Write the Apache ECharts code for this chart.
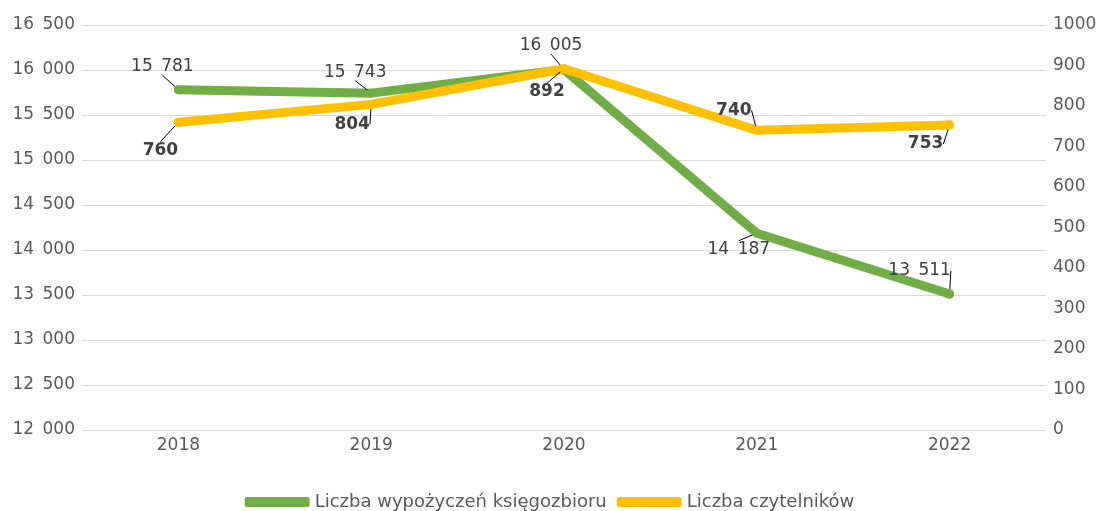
<!DOCTYPE html>
<html>
<head>
<meta charset="utf-8">
<script src="https://cdn.jsdelivr.net/npm/echarts@6/dist/echarts.min.js"></script>
<style>
  html, body { margin: 0; padding: 0; background: #fff; }
  #chart { width: 1099px; height: 511px; }
</style>
</head>
<body>
<div id="chart"></div>
<script>
var years = ['2018', '2019', '2020', '2021', '2022'];
var wypozyczenia = [15781, 15743, 16005, 14187, 13511];
var czytelnicy = [760, 804, 892, 740, 753];

// przesunięcia etykiet względem punktów
var greenOff = [[-16, -23], [-16, -21], [-13, -24], [-18, 16], [-30, -23]];
var yellowOff = [[-18, 28], [-19, 20], [-17, 23], [-23, -20], [-24, 19]];

var font = 'DejaVu Sans';
var fs = 17;

function fmt(v) {
  return String(v).replace(/\B(?=(\d{3})+(?!\d))/g, '\u2002');
}

var chart = echarts.init(document.getElementById('chart'));
var options = {
  animation: false,
  textStyle: { fontFamily: font },
  grid: { left: 82, right: 53, top: 25, bottom: 81, outerBoundsMode: 'none', containLabel: false },
  legend: {
    top: 488,
    icon: 'roundRect',
    itemWidth: 65,
    itemHeight: 10,
    itemGap: 10,
    textStyle: { color: '#595959', fontSize: 18, fontFamily: font },
    data: ['Liczba wypożyczeń księgozbioru', 'Liczba czytelników']
  },
  xAxis: {
    type: 'category',
    data: years,
    axisLine: { lineStyle: { color: '#d9d9d9', width: 1 } },
    axisTick: { show: false },
    axisLabel: { color: '#595959', fontSize: fs, fontFamily: font, margin: 7 }
  },
  yAxis: [{
    type: 'value',
    min: 12000, max: 16500, interval: 500,
    axisLabel: { color: '#595959', fontSize: fs, fontFamily: font, margin: 7, formatter: fmt },
    splitLine: { lineStyle: { color: '#d9d9d9', width: 1 } }
  }, {
    type: 'value',
    min: 0, max: 1000, interval: 100,
    axisLabel: { color: '#595959', fontSize: fs, fontFamily: font, margin: 7, formatter: function (v) { return String(v); } },
    splitLine: { show: false }
  }],
  series: [{
    name: 'Liczba wypożyczeń księgozbioru',
    type: 'line',
    yAxisIndex: 0,
    data: wypozyczenia,
    color: '#70ad47',
    symbol: 'circle',
    symbolSize: 9,
    lineStyle: { width: 9, cap: 'round', join: 'round' },
    label: {
      show: true, position: 'inside', color: '#404040', fontSize: fs, fontFamily: font,
      formatter: function (p) { return fmt(p.value); }
    },
    labelLine: { show: true, lineStyle: { color: '#000', width: 1 } },
    labelLayout: function (p) {
      var o = greenOff[p.dataIndex];
      return { dx: o[0], dy: o[1] };
    },
    z: 2
  }, {
    name: 'Liczba czytelników',
    type: 'line',
    yAxisIndex: 1,
    data: czytelnicy,
    color: '#ffc000',
    symbol: 'circle',
    symbolSize: 9,
    lineStyle: { width: 9, cap: 'round', join: 'round' },
    label: {
      show: true, position: 'inside', color: '#404040', fontSize: fs, fontFamily: font, fontWeight: 'bold'
    },
    labelLine: { show: true, lineStyle: { color: '#000', width: 1 } },
    labelLayout: function (p) {
      var o = yellowOff[p.dataIndex];
      return { dx: o[0], dy: o[1] };
    },
    z: 3
  }]
};
chart.setOption(options);
window.addEventListener('resize', function () { chart.resize(); });
</script>
</body>
</html>
